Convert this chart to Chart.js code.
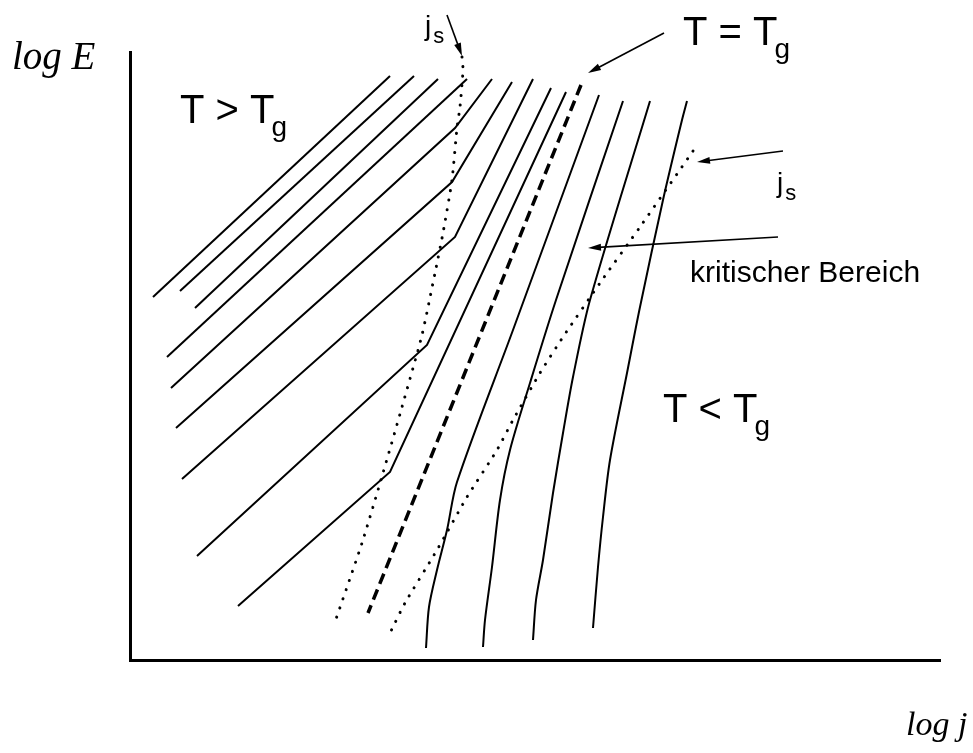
<!DOCTYPE html>
<html>
<head>
<meta charset="utf-8">
<script src="https://cdn.jsdelivr.net/npm/chart.js@4.4.0/dist/chart.umd.min.js"></script>
<style>
  body { margin: 0; background: #fff; }
  canvas { display: block; }
</style>
</head>
<body>
<canvas id="chart" width="973" height="753"></canvas>
<script>
// log j (x) and log E (y), arbitrary units
const curvesAbove = [
    [[2.3, 36.3], [26.0, 58.4]],
    [[5.0, 36.9], [28.4, 58.4]],
    [[6.5, 35.2], [30.8, 58.1]],
    [[3.7, 30.3], [33.7, 58.1]],
    [[4.1, 27.2], [32.5, 53.2], [36.2, 58.1]],
    [[4.6, 23.2], [32.2, 47.8], [38.2, 57.8]],
    [[5.2, 18.1], [32.5, 42.3], [40.3, 58.1]],
    [[6.7, 10.4], [29.7, 31.5], [42.1, 57.2]],
    [[10.8, 5.4], [26.0, 18.8], [43.6, 56.8]]
];

const curveTg = [[45.1, 57.5], [23.8, 4.7]];

const curvesBelow = [
    [[46.9, 56.5], [38.3, 33.0], [32.7, 17.8], [31.7, 13.0], [30.7, 9.0], [29.9, 5.3], [29.6, 1.2]],
    [[49.3, 55.9], [42.6, 36.0], [40.0, 27.7], [38.0, 21.0], [37.0, 16.0], [36.2, 9.3], [35.5, 4.0], [35.3, 1.3]],
    [[52.0, 55.9], [46.0, 36.0], [44.3, 28.3], [43.3, 22.7], [42.3, 16.7], [41.3, 10.0], [40.6, 6.0], [40.3, 2.0]],
    [[55.7, 55.9], [55.2, 54.0], [53.3, 46.0], [51.0, 35.3], [49.7, 28.7], [48.0, 20.0], [47.3, 14.3], [46.8, 9.3], [46.3, 3.2]]
];

// j_s: where the curves change slope
const jsLeft = [[33.2, 60.3], [33.3, 59.0], [33.0, 55.3], [32.7, 53.2], [32.2, 48.0], [31.3, 42.7],
    [30.5, 38.7], [29.2, 32.5], [27.2, 25.3], [25.3, 18.7], [23.2, 11.7], [20.5, 3.8]];
const jsRight = [[56.3, 50.9], [51.0, 43.3], [47.0, 37.7], [43.3, 32.3], [41.0, 28.7], [38.3, 24.0],
    [36.7, 21.0], [33.7, 16.3], [30.7, 11.0], [27.5, 5.7], [26.0, 2.7]];

// arrows: [from, to]
const arrows = [
    [[31.7, 64.5], [33.2, 60.4]],
    [[53.4, 62.7], [45.8, 58.7]],
    [[65.3, 50.9], [56.7, 49.8]],
    [[64.8, 42.3], [45.8, 41.2]]
];

// labels: [text, subscript, x, y]
const labels = [
    ['T > T', 'g', 5.0, 53.7],
    ['T = T', 'g', 55.3, 61.5],
    ['T < T', 'g', 53.3, 23.8],
    ['j', 's', 29.5, 62.5],
    ['j', 's', 64.7, 46.8],
    ['kritischer Bereich', '', 56.0, 37.8]
];

const toXY = pts => pts.map(([x, y]) => ({x: x, y: y}));

const solid = (pts, tension) => ({
    data: toXY(pts),
    borderColor: '#000',
    borderWidth: 2,
    tension: tension,
    showLine: true,
    pointRadius: 0
});

const dotted = pts => ({
    data: toXY(pts),
    borderColor: '#000',
    borderWidth: 3,
    borderDash: [0.1, 9.5],
    borderCapStyle: 'round',
    tension: 0.2,
    showLine: true,
    pointRadius: 0
});

const datasets = [];
curvesAbove.forEach(c => datasets.push(solid(c, 0)));
curvesBelow.forEach(c => datasets.push(solid(c, 0.3)));
datasets.push({
    data: toXY(curveTg),
    borderColor: '#000',
    borderWidth: 3.5,
    borderDash: [11, 6],
    showLine: true,
    pointRadius: 0
});
datasets.push(dotted(jsLeft));
datasets.push(dotted(jsRight));

function drawArrow(ctx, x0, y0, x1, y1) {
    const a = Math.atan2(y1 - y0, x1 - x0);
    const len = 13, half = 3.5;
    ctx.lineWidth = 1.6;
    ctx.beginPath();
    ctx.moveTo(x0, y0);
    ctx.lineTo(x1 - Math.cos(a) * 6, y1 - Math.sin(a) * 6);
    ctx.stroke();
    ctx.beginPath();
    ctx.moveTo(x1, y1);
    ctx.lineTo(x1 - Math.cos(a) * len - Math.sin(a) * half, y1 - Math.sin(a) * len + Math.cos(a) * half);
    ctx.lineTo(x1 - Math.cos(a) * len + Math.sin(a) * half, y1 - Math.sin(a) * len - Math.cos(a) * half);
    ctx.closePath();
    ctx.fill();
}

const notes = {
    id: 'notes',
    afterDraw(chart) {
        const {ctx, scales: {x, y}} = chart;
        const px = v => x.getPixelForValue(v);
        const py = v => y.getPixelForValue(v);
        ctx.save();
        ctx.strokeStyle = '#000';
        ctx.fillStyle = '#000';
        arrows.forEach(([a, b]) => drawArrow(ctx, px(a[0]), py(a[1]), px(b[0]), py(b[1])));

        ctx.textBaseline = 'alphabetic';
        labels.forEach(([text, sub, lx, ly]) => {
            const big = text === 'j' ? 28 : (sub ? 40 : 30);
            const small = text === 'j' ? 22 : 28;
            ctx.font = big + 'px "Liberation Sans", Arial, sans-serif';
            const x0 = px(lx), y0 = py(ly);
            ctx.fillText(text, x0, y0);
            if (sub) {
                const w = ctx.measureText(text).width;
                ctx.font = small + 'px "Liberation Sans", Arial, sans-serif';
                if (text === 'j') ctx.fillText(sub, x0 + w + 2, y0 + 8);
                else ctx.fillText(sub, x0 + w - 3, y0 + 13);
            }
        });

        ctx.font = 'italic 39px "Liberation Serif", "Times New Roman", serif';
        ctx.fillText('log E', px(-11.8), py(59.1));
        ctx.font = 'italic 34px "Liberation Serif", "Times New Roman", serif';
        ctx.fillText('log j', px(77.6), py(-7.5));
        ctx.restore();
    }
};

new Chart(document.getElementById('chart'), {
    type: 'scatter',
    data: { datasets: datasets },
    options: {
        responsive: false,
        animation: false,
        events: [],
        layout: { padding: { left: 130, right: 33, top: 52, bottom: 93 } },
        scales: {
            x: {
                type: 'linear',
                min: 0,
                max: 81,
                grid: { display: false, drawTicks: false },
                ticks: { display: false },
                border: { display: true, color: '#000', width: 3 }
            },
            y: {
                type: 'linear',
                min: 0,
                max: 60.8,
                grid: { display: false, drawTicks: false },
                ticks: { display: false },
                border: { display: true, color: '#000', width: 3 }
            }
        },
        plugins: {
            legend: { display: false },
            tooltip: { enabled: false }
        }
    },
    plugins: [notes]
});
</script>
</body>
</html>
